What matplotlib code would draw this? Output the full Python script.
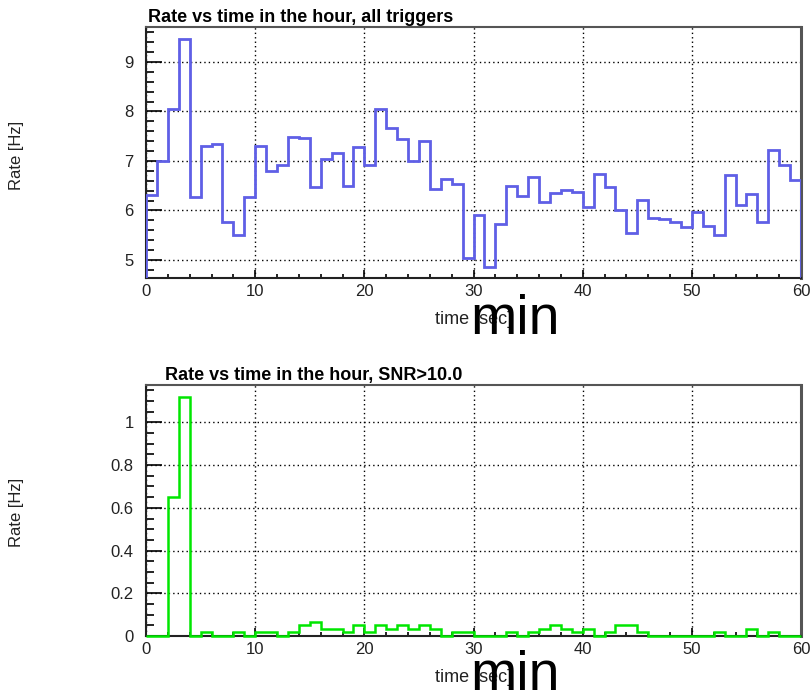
import matplotlib
matplotlib.use("Agg")
import matplotlib.pyplot as plt
from matplotlib.ticker import MultipleLocator, FormatStrFormatter
import numpy as np

plt.rcParams['font.family'] = ['Liberation Sans', 'DejaVu Sans']

# minute bins of the hour
edges = np.arange(0, 61, 1)

# rate of all triggers per minute [Hz]
rate_all = [6.32, 7.00, 8.05, 9.47, 6.28, 7.31, 7.34, 5.76, 5.51, 6.28,
            7.31, 6.79, 6.91, 7.49, 7.47, 6.47, 7.05, 7.16, 6.49, 7.28,
            6.91, 8.05, 7.66, 7.45, 7.00, 7.40, 6.43, 6.64, 6.53, 5.03,
            5.90, 4.86, 5.73, 6.49, 6.30, 6.68, 6.18, 6.35, 6.41, 6.38,
            6.07, 6.74, 6.47, 6.00, 5.54, 6.22, 5.84, 5.82, 5.76, 5.66,
            5.97, 5.69, 5.50, 6.72, 6.11, 6.33, 5.76, 7.22, 6.91, 6.61]

# triggers with SNR>10 counted per minute
counts_snr = [0, 0, 39, 67, 0, 1, 0, 0, 1, 0,
              1, 1, 0, 1, 3, 4, 2, 2, 1, 3,
              1, 3, 2, 3, 2, 3, 2, 0, 1, 1,
              0, 0, 0, 1, 0, 1, 2, 3, 2, 1,
              2, 0, 1, 3, 3, 1, 0, 0, 0, 0,
              0, 0, 1, 0, 0, 2, 0, 1, 0, 0]
rate_snr = np.array(counts_snr) / 60.0

titles = ["Rate vs time in the hour, all triggers",
          "Rate vs time in the hour, SNR>10.0"]

W, H = 810, 699
fig = plt.figure(figsize=(W / 100, H / 100), dpi=100)


def px(x, y):
    return x / W, 1 - y / H


def setup(ax, ylim, ymaj, ymin):
    ax.set_xlim(0, 60)
    ax.set_ylim(*ylim)
    ax.xaxis.set_major_locator(MultipleLocator(10))
    ax.xaxis.set_minor_locator(MultipleLocator(2))
    ax.yaxis.set_major_locator(MultipleLocator(ymaj))
    ax.yaxis.set_minor_locator(MultipleLocator(ymin))
    ax.tick_params(axis='x', which='major', direction='in', length=6, width=1.2,
                   labelsize=12, pad=4, labelcolor='#222222')
    ax.tick_params(axis='x', which='minor', direction='in', length=3, width=1.2)
    ax.tick_params(axis='y', which='major', direction='in', length=11.5, width=1.2,
                   labelsize=12, pad=9, labelcolor='#222222')
    ax.tick_params(axis='y', which='minor', direction='in', length=6, width=1.2)
    ax.grid(True, which='major', color='black', linestyle=(0, (1, 2.2)), linewidth=1)
    for s in ax.spines.values():
        s.set_linewidth(1.5)
        s.set_color('#222222')
    ax.spines['right'].set_linewidth(2.2)
    ax.spines['right'].set_color('#555555')
    ax.spines['top'].set_color('#555555')
    ax.set_xlabel("time [sec]", fontsize=13, labelpad=9, color='#222222')


# top panel: all triggers
ax1 = fig.add_axes([146 / W, 1 - 278 / H, 655 / W, 251 / H])
ax1.stairs(rate_all, edges, color='#5f5fe6', linewidth=2.0, zorder=3)
setup(ax1, (4.636, 9.707), 1, 0.2)
ax1.yaxis.set_major_formatter(FormatStrFormatter('%g'))

# bottom panel: SNR>10
ax2 = fig.add_axes([146 / W, 1 - 636 / H, 655 / W, 251 / H])
ax2.stairs(rate_snr, edges, color='#00e600', linewidth=1.8, zorder=3, clip_on=False)
setup(ax2, (0, 1.175), 0.2, 0.05)
ax2.yaxis.set_major_formatter(FormatStrFormatter('%g'))

# titles
fig.text(*px(148, 22), titles[0], fontsize=13, fontweight='bold', va='baseline', ha='left')
fig.text(*px(165, 380), titles[1], fontsize=13, fontweight='bold', va='baseline', ha='left')

# y labels
fig.text(*px(17, 155), "Rate [Hz]", fontsize=12, rotation=90, va='center', ha='center',
         color='#222222')
fig.text(*px(17, 512), "Rate [Hz]", fontsize=12, rotation=90, va='center', ha='center',
         color='#222222')

# big "min" overlays on the time axis
fig.text(*px(515, 334), "min", fontsize=40, va='baseline', ha='center', color='black')
fig.text(*px(515, 690), "min", fontsize=40, va='baseline', ha='center', color='black')

fig.savefig("out.png", dpi=100)
